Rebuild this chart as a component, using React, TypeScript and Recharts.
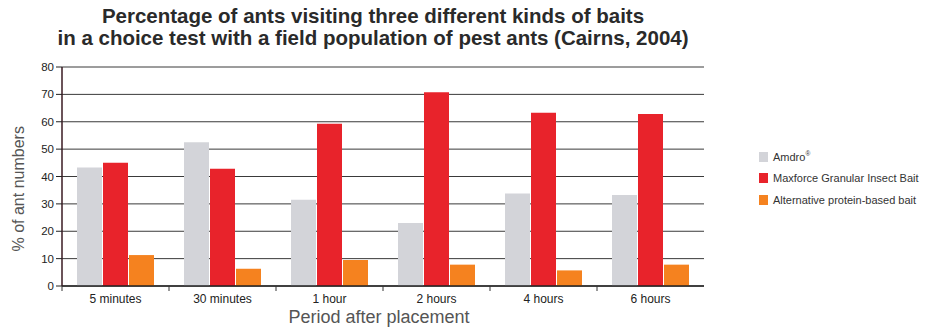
import * as React from 'react';
import { BarChart, Bar, XAxis, YAxis, CartesianGrid } from 'recharts';

// data
const periods = ['5 minutes', '30 minutes', '1 hour', '2 hours', '4 hours', '6 hours'];
const amdro = [43.3, 52.5, 31.5, 23, 33.8, 33.2];
const maxforce = [45, 42.8, 59.3, 70.8, 63.3, 62.8];
const alternative = [11.3, 6.3, 9.5, 7.8, 5.7, 7.8];
const yTicks = [0, 10, 20, 30, 40, 50, 60, 70, 80];

const series = [
    { key: 'amdro', name: 'Amdro', sup: '®', color: '#d3d4d9' },
    { key: 'maxforce', name: 'Maxforce Granular Insect Bait', sup: '', color: '#e8232b' },
    { key: 'alternative', name: 'Alternative protein-based bait', sup: '', color: '#f5821f' },
];

const data = periods.map((p, i) => ({
    period: p,
    amdro: amdro[i],
    maxforce: maxforce[i],
    alternative: alternative[i],
}));

const font = '"Liberation Sans", Arial, sans-serif';

// category label plus a small tick at the left edge of each band
function PeriodTick(props: any) {
    const { x, y, payload, width } = props;
    const band = width / periods.length;
    const left = x - band / 2;
    return (
        <g>
            <line x1={left} x2={left} y1={y - 8} y2={y - 3} stroke="#333" />
            <text x={x} y={y + 9} textAnchor="middle" fontSize={12} fill="#222" fontFamily={font}>
                {payload.value}
            </text>
        </g>
    );
}

function SideLegend() {
    return (
        <div style={{ position: 'absolute', left: 759, top: 146, fontFamily: font, fontSize: 11, color: '#333', whiteSpace: 'nowrap' }}>
            {series.map(s => (
                <div key={s.key} style={{ display: 'flex', alignItems: 'center', height: 21.5 }}>
                    <span style={{ width: 9, height: 10, background: s.color, marginRight: 5, display: 'inline-block' }} />
                    <span>{s.name}{s.sup && <sup style={{ fontSize: 6.5 }}>{s.sup}</sup>}</span>
                </div>
            ))}
        </div>
    );
}

export default function App() {
    return (
        <div style={{ position: 'absolute', left: 0, top: 0, width: 933, height: 329, background: '#fff', fontFamily: font }}>
            <div style={{ position: 'absolute', left: 0, width: 746, top: 5, textAlign: 'center', fontSize: 20.5, fontWeight: 'bold', lineHeight: '22px', color: '#2a2a2a' }}>
                Percentage of ants visiting three different kinds of baits<br />
                in a choice test with a field population of pest ants (Cairns, 2004)
            </div>
            <BarChart
                width={933}
                height={329}
                data={data}
                margin={{ top: 67, right: 229, left: 22, bottom: 23 }}
                barCategoryGap={15}
                barGap={1}
                style={{ position: 'absolute', left: 0, top: 0 }}
            >
                <CartesianGrid vertical={false} stroke="#3a3a3a" />
                <XAxis
                    dataKey="period"
                    tick={<PeriodTick />}
                    tickLine={false}
                    axisLine={{ stroke: '#222', strokeWidth: 1.5 }}
                    height={20}
                    interval={0}
                />
                <YAxis
                    domain={[0, 80]}
                    ticks={yTicks}
                    width={40}
                    tickSize={6}
                    tick={{ fontSize: 11.5, fill: '#222', fontFamily: font }}
                    tickLine={{ stroke: '#222' }}
                    axisLine={{ stroke: '#3a1a22', strokeWidth: 1.5 }}
                    label={{ value: '% of ant numbers', angle: -90, position: 'insideLeft', dx: -9, dy: 75, style: { fontSize: 16, fill: '#555', fontFamily: font } }}
                />
                <YAxis
                    yAxisId="frame"
                    orientation="right"
                    domain={[0, 80]}
                    width={0}
                    tick={false}
                    tickLine={false}
                    axisLine={{ stroke: '#222', strokeWidth: 1.5 }}
                />
                {series.map(s => (
                    <Bar key={s.key} dataKey={s.key} name={s.name} fill={s.color} barSize={25} isAnimationActive={false} />
                ))}
            </BarChart>
            <SideLegend />
            <div style={{ position: 'absolute', left: 0, width: 758, top: 307, textAlign: 'center', fontSize: 18, color: '#555' }}>
                Period after placement
            </div>
        </div>
    );
}
